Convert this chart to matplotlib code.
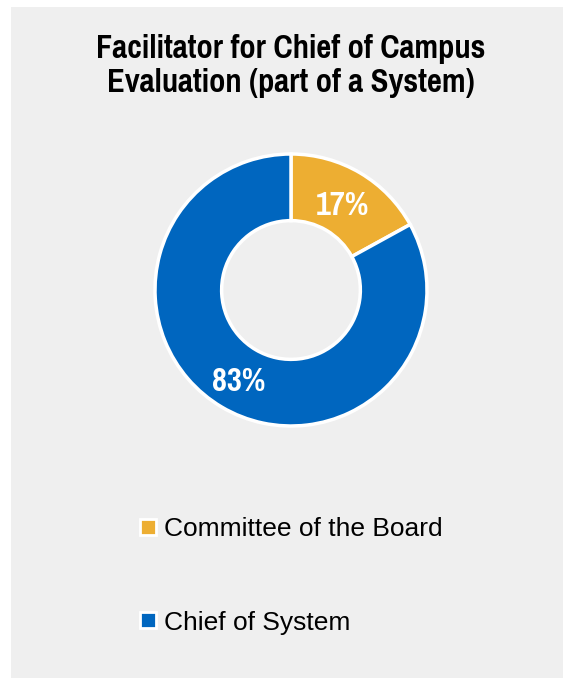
import matplotlib
matplotlib.use("Agg")
import matplotlib.pyplot as plt
from matplotlib.lines import Line2D
from matplotlib.patches import Rectangle

# data
labels = ["Committee of the Board", "Chief of System"]
shares = [17, 83]
colors = ["#EDAE32", "#0066BF"]
title = "Facilitator for Chief of Campus\nEvaluation (part of a System)"

BG = "#EFEFEF"
NARROW = ["Pragati Narrow", "Liberation Sans", "DejaVu Sans"]

fig = plt.figure(figsize=(5.63, 6.78), dpi=100)
fig.patch.set_facecolor("white")
# grey panel, white strip on left/top
fig.add_artist(Rectangle((11 / 563, 0), 1, 1 - 7 / 678, transform=fig.transFigure,
                         facecolor=BG, edgecolor="none", zorder=0))

fig.text(291 / 563, 1 - 66 / 678, title, ha="center", va="center",
         fontsize=25.5, fontweight="bold", family=NARROW, linespacing=1.18)

# donut
cx, cy, r = 291, 290, 136
pad = 1.05
ax = fig.add_axes([(cx - r * pad) / 563, (678 - cy - r * pad) / 678,
                   2 * r * pad / 563, 2 * r * pad / 678])
ax.set_facecolor("none")
wedges, _, autotexts = ax.pie(
    shares, colors=colors, startangle=90, counterclock=False,
    radius=1, autopct="%d%%", pctdistance=0.75,
    wedgeprops=dict(width=0.49, edgecolor="white", linewidth=2.5),
)
for t in autotexts:
    x, y = t.get_position()
    t.set_position((x, y - 0.03))
    t.set_color("white")
    t.set_fontsize(25.5)
    t.set_fontweight("bold")
    t.set_family(NARROW)
ax.set_xlim(-pad, pad)
ax.set_ylim(-pad, pad)
ax.set_aspect("equal")
ax.axis("off")

handles = [Line2D([], [], linestyle="none", marker="s", markersize=11,
                  markerfacecolor=c, markeredgecolor="white", markeredgewidth=2)
           for c in colors]
leg = fig.legend(handles, labels, loc="upper left",
                 bbox_to_anchor=(114 / 563, 1 - 493 / 678),
                 frameon=False, labelspacing=2.65,
                 handlelength=0.8, handletextpad=0.2,
                 prop=dict(family="Liberation Sans", size=19))

fig.savefig("out.png", dpi=100, facecolor=fig.get_facecolor())
